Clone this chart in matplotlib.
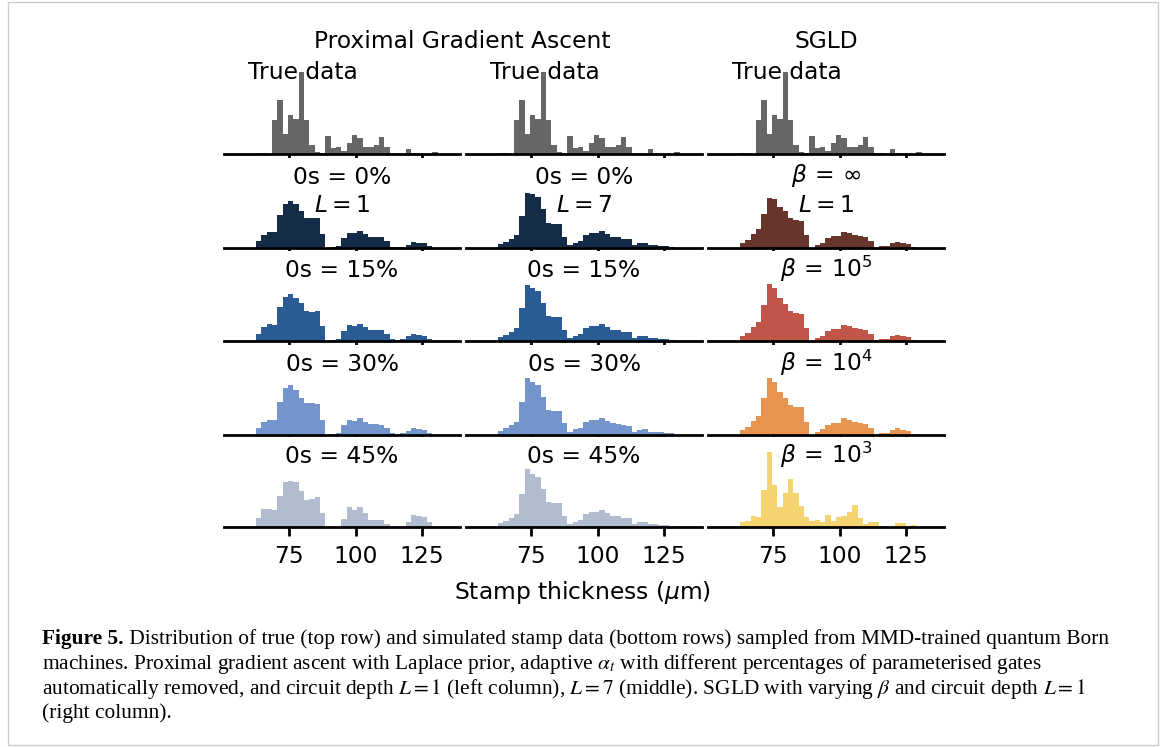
import numpy as np
import matplotlib
matplotlib.use("Agg")
import matplotlib.pyplot as plt
from matplotlib.patches import Rectangle

# ---------------- data ----------------
BIN_LO, BIN_HI, N_BINS = 62.43, 130.98, 34
XTICKS = [75, 100, 125]

true_data = [4, 4, 0, 103, 163, 61, 118, 106, 248, 103, 28, 8, 5, 55, 20, 23, 11, 35,
             58, 50, 22, 22, 28, 52, 22, 4, 4, 0, 16, 5, 1, 1, 0, 8]

pga_L1_0 = [22, 39, 50, 50, 100, 134, 143, 132, 112, 90, 90, 92, 43, 0, 3, 7, 31, 47,
            45, 52, 43, 34, 34, 34, 22, 3, 3, 3, 11, 20, 16, 16, 7, 0]
pga_L1_15 = [23, 43, 53, 50, 103, 133, 143, 131, 115, 91, 88, 91, 46, 0, 4, 7, 31, 50,
             46, 53, 43, 34, 34, 34, 23, 7, 4, 7, 16, 23, 20, 16, 7, 0]
pga_L1_30 = [20, 40, 45, 45, 100, 140, 150, 135, 110, 95, 95, 93, 45, 0, 3, 7, 30, 45,
             42, 50, 40, 33, 33, 30, 20, 5, 3, 5, 12, 20, 18, 15, 7, 0]
pga_L1_45 = [27, 55, 55, 52, 94, 137, 139, 137, 109, 82, 85, 90, 44, 0, 0, 0, 24, 60,
             52, 60, 42, 22, 22, 22, 9, 0, 0, 0, 16, 37, 34, 30, 15, 0]

pga_L7_0 = [13, 20, 29, 40, 97, 165, 163, 155, 117, 75, 73, 72, 35, 10, 17, 22, 40, 45,
            45, 52, 42, 35, 33, 29, 27, 10, 15, 17, 10, 9, 8, 7, 5, 0]
pga_L7_15 = [13, 20, 29, 40, 100, 168, 160, 150, 115, 75, 73, 72, 35, 10, 17, 22, 40, 45,
             45, 52, 42, 35, 33, 29, 27, 10, 15, 17, 10, 9, 8, 7, 5, 0]
pga_L7_30 = [13, 20, 29, 40, 100, 170, 160, 150, 115, 75, 73, 72, 35, 10, 17, 22, 40, 45,
             45, 52, 42, 35, 33, 29, 27, 10, 15, 17, 10, 9, 8, 7, 5, 0]
pga_L7_45 = [13, 20, 29, 40, 100, 175, 160, 150, 115, 75, 73, 72, 35, 10, 17, 22, 40, 45,
             45, 52, 42, 35, 33, 29, 27, 10, 15, 17, 10, 9, 8, 7, 5, 0]

sgld_inf = [15, 25, 43, 58, 103, 151, 148, 125, 112, 90, 85, 83, 40, 0, 10, 17, 30, 37,
            37, 50, 45, 40, 37, 33, 22, 3, 7, 7, 15, 20, 15, 13, 3, 0]
sgld_1e5 = [15, 25, 43, 58, 110, 172, 160, 130, 112, 90, 85, 83, 40, 0, 10, 17, 30, 37,
            37, 50, 45, 40, 37, 33, 22, 3, 7, 7, 15, 20, 15, 13, 3, 0]
sgld_1e4 = [15, 25, 43, 58, 110, 170, 160, 130, 112, 90, 85, 83, 40, 0, 10, 17, 30, 37,
            37, 50, 45, 40, 37, 33, 22, 3, 7, 7, 15, 20, 15, 13, 3, 0]
sgld_1e3 = [17, 20, 33, 30, 113, 225, 127, 62, 104, 144, 104, 65, 32, 20, 23, 17, 38, 20,
            32, 35, 47, 68, 29, 11, 17, 17, 5, 2, 5, 14, 14, 5, 8, 0]

col_pga1 = [pga_L1_0, pga_L1_15, pga_L1_30, pga_L1_45]
col_pga7 = [pga_L7_0, pga_L7_15, pga_L7_30, pga_L7_45]
col_sgld = [sgld_inf, sgld_1e5, sgld_1e4, sgld_1e3]

pga_labels = ["0s = 0%", "0s = 15%", "0s = 30%", "0s = 45%"]
sgld_labels = [r"$\beta\,=\,\infty$", r"$\beta\,=\,10^5$", r"$\beta\,=\,10^4$", r"$\beta\,=\,10^3$"]

TRUE_COLOR = "#666666"
BLUES = ["#142c48", "#2b5b95", "#7395cb", "#b1bccf"]
REDS = ["#67352b", "#c1554a", "#e79450", "#f5d470"]

# ---------------- figure ----------------
W, H = 1166, 747
fig = plt.figure(figsize=(W / 100, H / 100), dpi=100)
fig.patch.set_facecolor("white")

edges = np.linspace(BIN_LO, BIN_HI, N_BINS + 1)
col_left = [224, 466, 708]
col_w = 236
baselines = [154.3, 248.3, 341.3, 435.0, 527.3]
ax_h = 90.5
XLIM = (50.4, 139.4)
YTOP = 3 * ax_h
FS = 16.8

axes = [[None] * 3 for _ in range(5)]
for r in range(5):
    for c in range(3):
        ax = fig.add_axes([col_left[c] / W, 1 - baselines[r] / H, col_w / W, ax_h / H])
        axes[r][c] = ax
        if r == 0:
            vals, color = true_data, TRUE_COLOR
        elif c == 0:
            vals, color = col_pga1[r - 1], BLUES[r - 1]
        elif c == 1:
            vals, color = col_pga7[r - 1], BLUES[r - 1]
        else:
            vals, color = col_sgld[r - 1], REDS[r - 1]
        ax.bar(edges[:-1], vals, width=np.diff(edges), align="edge", color=color,
               linewidth=0)
        ax.set_xlim(*XLIM)
        ax.set_ylim(0, YTOP)
        for s in ("left", "right", "top"):
            ax.spines[s].set_visible(False)
        ax.spines["bottom"].set_linewidth(2)
        ax.set_yticks([])
        ax.set_xticks(XTICKS)
        ax.tick_params(axis="x", length=6.5, width=2, labelsize=FS, pad=6)
        if r < 4:
            ax.tick_params(axis="x", labelbottom=False)

        if r == 0:
            ax.text(0.335, 0.909, "True data", transform=ax.transAxes, ha="center",
                    va="center", fontsize=FS)
        elif c < 2:
            ax.text(0.5, 0.78, pga_labels[r - 1], transform=ax.transAxes, ha="center",
                    va="center", fontsize=FS)
        else:
            ax.text(0.5, 0.80, sgld_labels[r - 1], transform=ax.transAxes, ha="center",
                    va="center", fontsize=FS)
        if r == 1:
            Ltxt = r"$L = 1$" if c != 1 else r"$L = 7$"
            ax.text(0.5, 0.478, Ltxt, transform=ax.transAxes, ha="center", va="center",
                    fontsize=FS)

fig.text(462 / W, 1 - 42 / H, "Proximal Gradient Ascent", ha="center", va="center",
         fontsize=FS)
fig.text(826 / W, 1 - 42 / H, "SGLD", ha="center", va="center", fontsize=FS)
fig.text(583 / W, 1 - 592 / H, r"Stamp thickness ($\mu$m)", ha="center", va="center",
         fontsize=FS)

# ---------------- caption ----------------
cap_fs = 15.4
cap_x = 42
cap_lines = [
    (r"Figure 5.", " Distribution of true (top row) and simulated stamp data (bottom rows) sampled from MMD-trained quantum Born"),
    ("", r"machines. Proximal gradient ascent with Laplace prior, adaptive $\alpha_t$ with different percentages of parameterised gates"),
    ("", r"automatically removed, and circuit depth $L = 1$ (left column), $L = 7$ (middle). SGLD with varying $\beta$ and circuit depth $L = 1$"),
    ("", "(right column)."),
]
cap_y = [639, 664, 689, 713]
fig.canvas.draw()
renderer = fig.canvas.get_renderer()
for (bold, rest), y in zip(cap_lines, cap_y):
    x = cap_x
    if bold:
        t = fig.text(x / W, 1 - y / H, bold, fontsize=cap_fs, fontweight="bold",
                     family="Liberation Serif", va="center", ha="left")
        bb = t.get_window_extent(renderer)
        x = bb.x1
    fig.text(x / W, 1 - y / H, rest, fontsize=cap_fs, family="Liberation Serif",
             va="center", ha="left", math_fontfamily="stix")

fig.patches.append(Rectangle((8 / W, 2 / H), (1158 - 8) / W, (745 - 2) / H,
                             transform=fig.transFigure, fill=False, edgecolor="#cccccc",
                             linewidth=1))

fig.savefig("out.png", dpi=100)
